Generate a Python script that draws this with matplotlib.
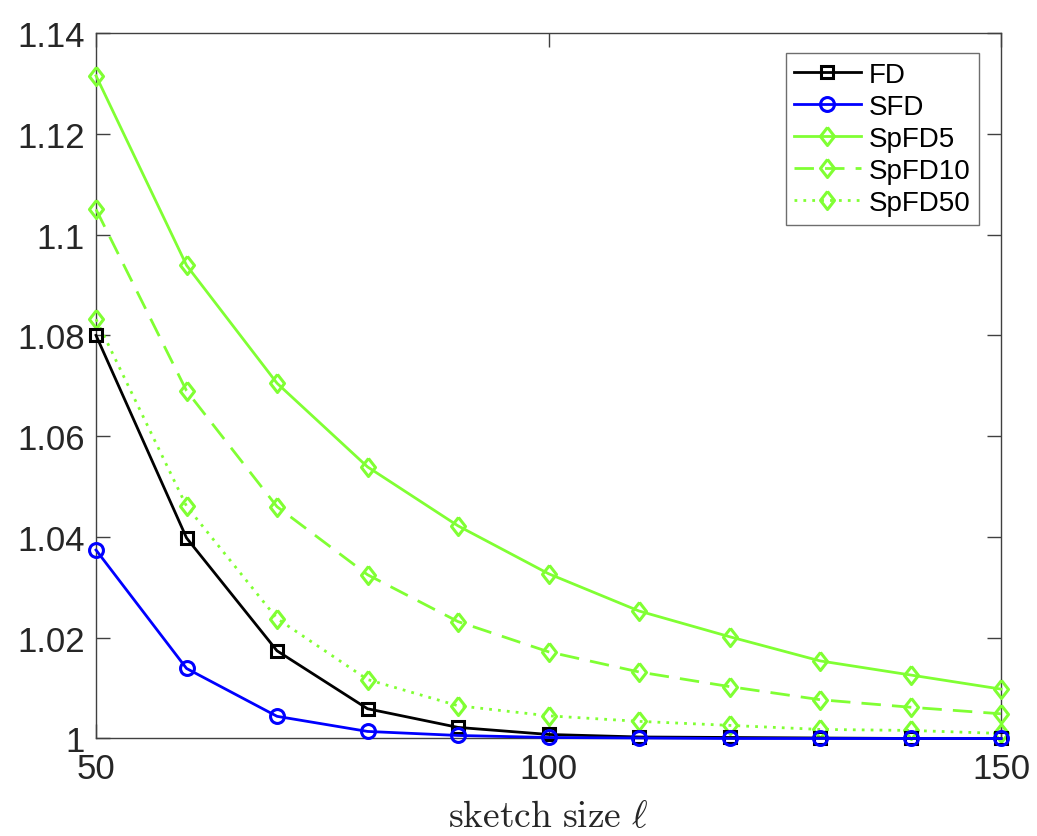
import matplotlib
matplotlib.use("Agg")
import matplotlib.pyplot as plt

sketch_size = [50, 60, 70, 80, 90, 100, 110, 120, 130, 140, 150]
fd = [1.0800, 1.0398, 1.0174, 1.0059, 1.0022, 1.0008, 1.0003, 1.0002, 1.0001, 1.0000, 1.0000]
sfd = [1.0374, 1.0139, 1.0044, 1.0014, 1.0006, 1.0002, 1.0001, 1.0000, 1.0000, 1.0000, 1.0000]
spfd5 = [1.1315, 1.0939, 1.0705, 1.0539, 1.0422, 1.0327, 1.0253, 1.0202, 1.0154, 1.0126, 1.0098]
spfd10 = [1.1050, 1.0690, 1.0460, 1.0325, 1.0232, 1.0172, 1.0132, 1.0103, 1.0077, 1.0062, 1.0049]
spfd50 = [1.0832, 1.0461, 1.0238, 1.0117, 1.0065, 1.0045, 1.0034, 1.0026, 1.0018, 1.0016, 1.0010]

labels = ["FD", "SFD", "SpFD5", "SpFD10", "SpFD50"]
xticks = [50, 100, 150]
yticks = [1.0, 1.02, 1.04, 1.06, 1.08, 1.1, 1.12, 1.14]
yticklabels = ["1", "1.02", "1.04", "1.06", "1.08", "1.1", "1.12", "1.14"]

plt.rcParams['font.family'] = ['Liberation Sans', 'DejaVu Sans']
plt.rcParams['mathtext.fontset'] = 'cm'

fig = plt.figure(figsize=(10.37, 8.37), dpi=100)
ax = fig.add_axes([0.0926, 0.1165, 0.8727, 0.8429])

green = (0.5, 1.0, 0.2)
diamond = [(0, 1), (0.78, 0), (0, -1), (-0.78, 0), (0, 1)]
lw = 2.0
mew = 2.2

ax.plot(sketch_size, fd, color='black', lw=lw, marker='s', ms=8, mfc='none', mew=mew,
        label=labels[0], clip_on=False, zorder=4)
ax.plot(sketch_size, sfd, color='blue', lw=lw, marker='o', ms=10, mfc='none', mew=mew,
        label=labels[1], clip_on=False, zorder=5)
ax.plot(sketch_size, spfd5, color=green, lw=lw, marker=diamond, ms=13, mfc='none', mew=mew,
        label=labels[2], clip_on=False, zorder=3)
ax.plot(sketch_size, spfd10, color=green, lw=lw, ls=(0, (7, 4)), marker=diamond, ms=13,
        mfc='none', mew=mew, label=labels[3], clip_on=False, zorder=3)
ax.plot(sketch_size, spfd50, color=green, lw=lw, ls=(0, (1, 2.2)), marker=diamond, ms=13,
        mfc='none', mew=mew, label=labels[4], clip_on=False, zorder=3)

ax.set_xlim(50, 150)
ax.set_ylim(1.0, 1.14)
ax.set_xticks(xticks)
ax.set_xticklabels([str(v) for v in xticks])
ax.set_yticks(yticks)
ax.set_yticklabels(yticklabels)

spine_col = '#404040'
for s in ax.spines.values():
    s.set_color(spine_col)
    s.set_linewidth(1.0)
ax.tick_params(direction='in', length=10, width=1.0, colors=spine_col, labelsize=25,
               top=True, right=True, pad=8)
ax.tick_params(axis='x', pad=10)
for t in ax.get_xticklabels() + ax.get_yticklabels():
    t.set_color('#262626')

ax.set_xlabel(r'$\mathrm{sketch\ size}\ \ell$', fontsize=27, labelpad=9, color='#262626')

leg = ax.legend(loc='upper right', bbox_to_anchor=(0.9757, 0.971), fontsize=20,
                handlelength=2.4, handletextpad=0.3, labelspacing=0.22,
                borderpad=0.3, borderaxespad=0, fancybox=False, framealpha=1)
leg.get_frame().set_edgecolor('#6e6e6e')
leg.get_frame().set_linewidth(1.0)

fig.savefig('out.png', dpi=100)
